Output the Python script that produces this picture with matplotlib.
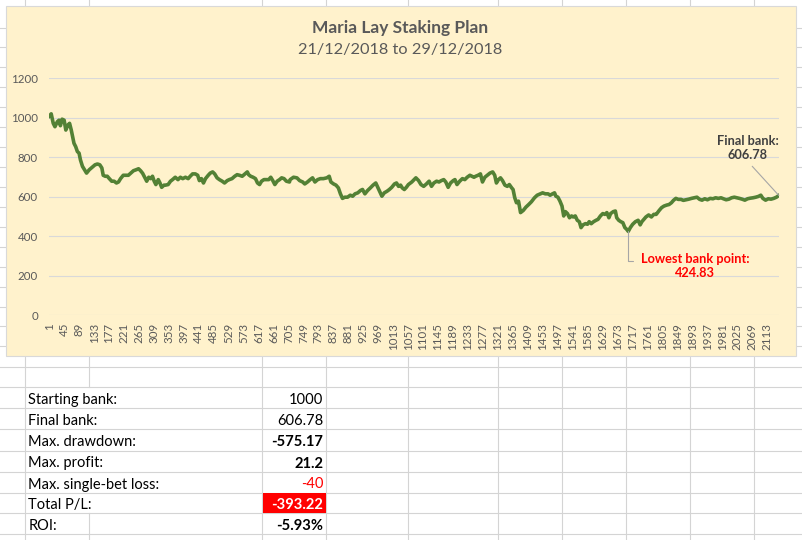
import matplotlib
matplotlib.use("Agg")
import matplotlib.pyplot as plt
from matplotlib.patches import Rectangle

plt.rcParams['font.family'] = ['Lato', 'DejaVu Sans']

# ---------------- data ----------------
title = "Maria Lay Staking Plan"
subtitle = "21/12/2018 to 29/12/2018"

bets = [1, 7, 13, 18, 25, 30, 34, 39, 45, 50, 56, 61, 66, 70, 74, 79, 84, 89, 93, 99,
        105, 111, 119, 127, 136, 143, 150, 156, 160, 166, 172, 178, 185, 192, 199, 205,
        211, 219, 227, 234, 241, 249, 257, 264, 270, 276, 282, 288, 294, 300, 305, 310,
        315, 322, 327, 332, 339, 343, 351, 358, 364, 372, 380, 387, 394, 402, 410, 416,
        423, 431, 438, 443, 449, 455, 461, 469, 475, 482, 488, 495, 502, 510, 517, 525,
        531, 539, 547, 554, 561, 569, 577, 584, 588, 594, 601, 608, 614, 620, 626, 633,
        640, 647, 653, 659, 665, 672, 679, 685, 692, 699, 708, 710, 720, 730, 738, 747, 753,
        761, 769, 776, 783, 791, 799, 808, 818, 825, 830, 838, 845, 852, 858, 864, 871,
        879, 887, 894, 901, 909, 917, 923, 930, 938, 946, 954, 962, 968, 974, 980, 987,
        995, 1002, 1009, 1017, 1023, 1029, 1035, 1040, 1046, 1052, 1058, 1068, 1080, 1088,
        1095, 1103, 1111, 1119, 1126, 1133, 1141, 1148, 1155, 1162, 1168, 1175, 1182,
        1190, 1195, 1201, 1209, 1217, 1224, 1231, 1239, 1245, 1251, 1256, 1263, 1270,
        1276, 1283, 1290, 1298, 1306, 1312, 1317, 1323, 1329, 1335, 1342, 1349, 1355,
        1362, 1366, 1371, 1376, 1382, 1388, 1396, 1404, 1412, 1420, 1429, 1437, 1446,
        1453, 1461, 1469, 1475, 1482, 1488, 1492, 1498, 1504, 1510, 1515, 1520, 1526,
        1532, 1538, 1543, 1549, 1555, 1561, 1566, 1572, 1579, 1585, 1590, 1596, 1603,
        1610, 1616, 1623, 1630, 1636, 1642, 1648, 1653, 1661, 1667, 1671, 1677, 1683,
        1689, 1695, 1700, 1705, 1711, 1718, 1726, 1734, 1740, 1745, 1751, 1757, 1765,
        1773, 1780, 1787, 1789, 1796, 1803, 1810, 1818, 1825, 1832, 1838, 1845, 1852, 1860,
        1867, 1875, 1883, 1891, 1899, 1907, 1915, 1922, 1930, 1938, 1946, 1954, 1962,
        1970, 1978, 1985, 1993, 2001, 2009, 2017, 2025, 2032, 2040, 2048, 2056, 2064,
        2072, 2080, 2088, 2095, 2101, 2109, 2117, 2125, 2133, 2141, 2148]

bank = [1008, 1020, 972, 955, 980, 988, 960, 993, 988, 938, 963, 972, 938, 905, 871, 854,
        829, 821, 787, 754, 737, 720, 737, 749, 762, 766, 762, 746, 709, 704, 704, 692,
        679, 679, 670, 675, 692, 709, 709, 709, 720, 732, 737, 742, 732, 719, 699, 679,
        699, 692, 704, 679, 662, 687, 670, 648, 659, 659, 662, 679, 687, 699, 687, 699,
        692, 699, 692, 704, 716, 716, 709, 682, 692, 670, 692, 709, 720, 726, 716, 696,
        687, 679, 670, 682, 687, 692, 704, 712, 709, 704, 716, 726, 712, 704, 699, 692,
        670, 662, 679, 687, 687, 687, 699, 682, 662, 679, 687, 696, 692, 679, 675, 687, 699,
        696, 682, 675, 665, 675, 687, 696, 675, 687, 692, 692, 696, 704, 675, 665, 659,
        645, 615, 592, 598, 598, 608, 603, 615, 620, 632, 637, 615, 632, 645, 659, 670,
        648, 625, 603, 620, 628, 637, 648, 665, 670, 653, 659, 645, 637, 648, 662, 675,
        696, 682, 662, 653, 665, 679, 653, 670, 679, 675, 682, 687, 675, 648, 670, 682,
        687, 662, 679, 692, 687, 699, 709, 704, 699, 704, 709, 716, 675, 699, 709, 720,
        726, 709, 670, 687, 696, 682, 659, 653, 662, 645, 637, 595, 570, 578, 520, 531,
        548, 561, 575, 595, 608, 615, 620, 615, 615, 608, 615, 620, 603, 598, 578, 553,
        503, 525, 515, 494, 503, 498, 503, 481, 474, 444, 458, 464, 461, 474, 464, 474,
        481, 486, 503, 515, 511, 520, 494, 515, 525, 528, 494, 481, 474, 469, 444, 436,
        424.83, 444, 461, 474, 481, 458, 474, 486, 498, 508, 498, 511, 511, 515, 531,
        545, 553, 558, 561, 570, 582, 592, 587, 587, 582, 585, 588, 592, 595, 598, 587,
        583, 590, 585, 592, 590, 595, 592, 595, 590, 585, 588, 595, 598, 595, 592, 588,
        583, 590, 593, 595, 598, 602, 608, 592, 583, 590, 588, 592, 598, 606.78]

y_ticks = [0, 200, 400, 600, 800, 1000, 1200]
x_tick_labels = [1, 45, 89, 133, 177, 221, 265, 309, 353, 397, 441, 485, 529, 573, 617,
                 661, 705, 749, 793, 837, 881, 925, 969, 1013, 1057, 1101, 1145, 1189,
                 1233, 1277, 1321, 1365, 1409, 1453, 1497, 1541, 1585, 1629, 1673, 1717,
                 1761, 1805, 1849, 1893, 1937, 1981, 2025, 2069, 2113]

final_label = "Final bank:\n606.78"
low_label = "Lowest bank point:\n424.83"
low_bet, low_value = 1705, 424.83

table_labels = ["Starting bank:", "Final bank:", "Max. drawdown:", "Max. profit:",
                "Max. single-bet loss:", "Total P/L:", "ROI:"]
table_values = ["1000", "606.78", "-575.17", "21.2", "-40", "-393.22", "-5.93%"]
table_bold = [False, False, True, True, False, True, True]
table_colors = ["black", "black", "black", "black", "#FF0000", "white", "black"]

# ---------------- figure ----------------
W, H = 803, 540
fig = plt.figure(figsize=(W / 100, H / 100), dpi=100)
bg = fig.add_axes([0, 0, 1, 1])
bg.set_xlim(0, W)
bg.set_ylim(H, 0)
bg.axis('off')

grid_c = '#D4D4D4'
col_lines = [25, 89, 262, 326, 408, 498, 562, 626, 690, 754]
row_lines = [27.5 + 19.93 * k for k in range(17)] + [366.7, 387.3, 408.3, 429.3, 450.7,
                                                      471.7, 492.7, 513.3, 534.3]
for v in col_lines:
    if v == 89:
        bg.plot([v, v], [0, 387.3], color=grid_c, lw=0.8, zorder=1)
        bg.plot([v, v], [513.3, H], color=grid_c, lw=0.8, zorder=1)
    else:
        bg.plot([v, v], [0, H], color=grid_c, lw=0.8, zorder=1)
for r in row_lines:
    bg.plot([0, W], [r, r], color=grid_c, lw=0.8, zorder=1)

# chart area
bg.add_patch(Rectangle((6, 6), 790, 350, facecolor='#FFF2CC', edgecolor='#D9D9D9',
                       lw=0.8, zorder=2))
bg.text(400, 28, title, ha='center', va='center', fontsize=12.5, fontweight='bold',
        color='#595959', zorder=3)
bg.text(400, 50, subtitle, ha='center', va='center', fontsize=11.8, color='#595959',
        zorder=3)

# table
bg.add_patch(Rectangle((262.7, 492.7), 63.3, 20.6, facecolor='#FF0000', edgecolor='none',
                       zorder=3))
row_bottoms = [408.3, 429.3, 450.7, 471.7, 492.7, 513.3, 534.3]
for i, (lab, val) in enumerate(zip(table_labels, table_values)):
    yb = row_bottoms[i] - 4.2
    bg.text(28.3, yb, lab, ha='left', va='baseline', fontsize=10.5, color='black', zorder=4)
    bg.text(323.5, yb, val, ha='right', va='baseline', fontsize=10.6,
            fontweight='bold' if table_bold[i] else 'normal', color=table_colors[i], zorder=4)

# chart plot area
x0, x1 = 49, 779
y0, y1 = 315.3, 78.3
ax = fig.add_axes([x0 / W, 1 - y0 / H, (x1 - x0) / W, (y0 - y1) / H])
ax.patch.set_alpha(0)
N = bets[-1]
ax.set_xlim(0.5, N + 0.5)
ax.set_ylim(0, 1200)
for s in ax.spines.values():
    s.set_visible(False)
ax.set_yticks(y_ticks)
ax.set_yticklabels([str(t) for t in y_ticks])
ax.set_xticks(x_tick_labels)
ax.set_xticklabels([str(t) for t in x_tick_labels], rotation=90)
ax.tick_params(axis='both', length=0, labelsize=8.3, labelcolor='#595959')
ax.tick_params(axis='y', pad=8)
ax.tick_params(axis='x', pad=5.5)
ax.grid(axis='y', color='#D9D9D9', lw=0.8)
ax.set_axisbelow(True)
ax.plot(bets, bank, color='#538135', lw=2.6, solid_joinstyle='round', zorder=3)

ax.annotate(final_label, xy=(bets[-1], bank[-1]), xytext=(-31, 47),
            textcoords='offset pixels', ha='center', va='center', fontsize=9.2,
            fontweight='bold', color='#404040', linespacing=1.2,
            arrowprops=dict(arrowstyle='-', color='#A6A6A6', lw=0.8, shrinkA=2,
                            shrinkB=0, relpos=(0.5, 0)), zorder=5)
ax.annotate(low_label, xy=(low_bet, low_value), xytext=(67, -35),
            textcoords='offset pixels', ha='center', va='center', fontsize=9.2,
            fontweight='bold', color='#FF0000', linespacing=1.2,
            arrowprops=dict(arrowstyle='-', color='#A6A6A6', lw=0.8, shrinkA=4,
                            shrinkB=0, relpos=(0, 0.72),
                            connectionstyle='angle,angleA=0,angleB=90,rad=0'), zorder=5)

fig.savefig('out.png', dpi=100)
